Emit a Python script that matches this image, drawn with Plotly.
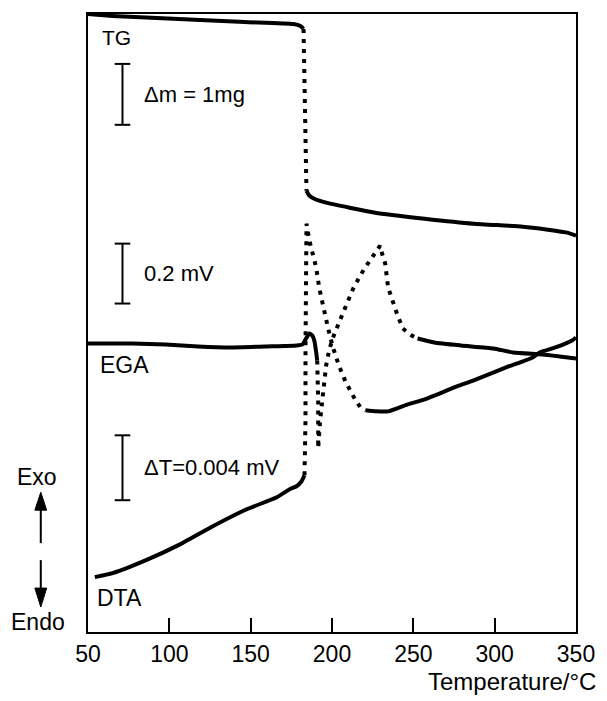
import plotly.graph_objects as go

# ---------------- data (temperature in °C, signal in arbitrary units) -------------
tg_solid1_T = [50.0, 65.1, 105.6, 146.2, 176.4, 180.6, 182.5]
tg_solid1_Y = [619, 617, 614, 611, 609, 607, 604]
tg_dot_T = [182.5, 183.1, 183.7, 184.3]
tg_dot_Y = [604, 552, 492, 442]
tg_solid2_T = [184.3, 186.1, 189.1, 196.4, 226.6, 256.9, 287.1, 317.3, 337.3, 344.6, 350.0]
tg_solid2_Y = [442, 437, 434, 430, 420, 414, 409, 406, 402, 400, 397]

ega_solid1_T = [50.0, 77.2, 97.8, 117.7, 137.7, 158.3, 178.2, 181.9, 183.7, 186.1, 187.9, 189.1, 190.3, 190.9]
ega_solid1_Y = [289, 289, 288, 286, 285, 286, 287, 288, 293, 299, 297, 292, 280, 272]
ega_dot_T = [190.9, 191.5, 191.5, 192.7, 194.5, 196.4, 198.2, 200.6, 206.6, 213.3, 219.9, 226.6, 229.6,
             230.8, 232.7, 234.5, 236.9, 239.9, 243.5, 249.0, 252.6]
ega_dot_Y = [272, 232, 184, 212, 239, 267, 282, 295, 319, 345, 364, 379, 387,
             379, 369, 345, 332, 319, 304, 297, 294]
ega_solid2_T = [252.6, 262.9, 279.2, 299.2, 311.3, 329.4, 340.0, 350.0]
ega_solid2_Y = [294, 290, 287, 284, 280, 278, 276, 274]

dta_solid1_T = [54.2, 65.1, 85.7, 105.6, 125.6, 146.2, 166.1, 174.0, 178.2, 181.3, 183.1]
dta_solid1_Y = [55, 59, 72, 87, 105, 122, 135, 143, 146, 151, 157]
dta_dot_T = [183.1, 183.7, 183.7, 183.7, 184.3, 184.3, 186.1, 188.5, 190.3, 192.1, 194.5, 197.6,
             200.6, 204.2, 208.5, 211.5, 214.5, 217.5, 220.6]
dta_dot_Y = [157, 212, 282, 352, 402, 409, 392, 377, 365, 345, 325, 304,
             285, 267, 250, 240, 232, 225, 222]
dta_solid2_T = [220.6, 227.0, 234.5, 246.6, 256.9, 276.8, 287.1, 307.0, 323.4, 327.6, 337.3, 347.6, 350.0]
dta_solid2_Y = [222, 221, 221, 228, 233, 246, 252, 265, 275, 280, 285, 292, 295]

tick_vals = [50, 100, 150, 200, 250, 300, 350]
tick_text = ["50", "100", "150", "200", "250", "300", "350"]

curve_labels = ["TG", "EGA", "DTA"]
curve_label_T = [57.3, 56.0, 54.2]
curve_label_Y = [595, 267, 34]

scale_texts = ["Δm = 1mg", "0.2 mV", "ΔT=0.004 mV"]
scale_bar_lo = [508, 329, 132]
scale_bar_hi = [569, 389, 197]

# ---------------- figure ----------------
FONT = "Liberation Sans"
W, H = 607, 701
L, R, T, B = 88, 23, 13, 69
PW, PH = W - L - R, H - T - B

fig = go.Figure()

solid = dict(color="black", width=4, shape="spline", smoothing=0.5)
dotted = dict(color="black", width=4, dash="4px,6px", shape="linear")

segments = [
    (tg_solid1_T, tg_solid1_Y, solid), (tg_dot_T, tg_dot_Y, dotted), (tg_solid2_T, tg_solid2_Y, solid),
    (ega_solid1_T, ega_solid1_Y, solid), (ega_dot_T, ega_dot_Y, dotted), (ega_solid2_T, ega_solid2_Y, solid),
    (dta_solid1_T, dta_solid1_Y, solid), (dta_dot_T, dta_dot_Y, dotted), (dta_solid2_T, dta_solid2_Y, solid),
]
for xs, ys, ln in segments:
    fig.add_trace(go.Scatter(x=xs, y=ys, mode="lines", line=ln, showlegend=False,
                             hoverinfo="skip"))

annotations = []
for txt, tx, ty in zip(curve_labels, curve_label_T, curve_label_Y):
    annotations.append(dict(x=tx, y=ty, xref="x", yref="y", text=txt, showarrow=False,
                            xanchor="left", yanchor="middle",
                            font=dict(size=21 if txt == "TG" else 23, family=FONT, color="black")))

shapes = []
bar_x = 71.2
cap_half = 4.8
for txt, lo, hi in zip(scale_texts, scale_bar_lo, scale_bar_hi):
    shapes.append(dict(type="line", xref="x", yref="y", x0=bar_x, x1=bar_x, y0=lo, y1=hi,
                       line=dict(color="black", width=2)))
    for yy in (lo, hi):
        shapes.append(dict(type="line", xref="x", yref="y", x0=bar_x - cap_half, x1=bar_x + cap_half,
                           y0=yy, y1=yy, line=dict(color="black", width=2)))
    annotations.append(dict(x=83.3, y=(lo + hi) / 2, xref="x", yref="y", text=txt, showarrow=False,
                            xanchor="left", yanchor="middle",
                            font=dict(size=22, family=FONT, color="black")))


def pp(px, py):
    return (px - L) / PW, (T + PH - py) / PH


# Exo / Endo labels and arrows
ex, ey = pp(36, 477)
annotations.append(dict(x=ex, y=ey, xref="paper", yref="paper", text="Exo", showarrow=False,
                        xanchor="center", yanchor="middle", font=dict(size=23, family=FONT, color="black")))
ex, ey = pp(37, 622)
annotations.append(dict(x=ex, y=ey, xref="paper", yref="paper", text="Endo", showarrow=False,
                        xanchor="center", yanchor="middle", font=dict(size=23, family=FONT, color="black")))

a0 = pp(40, 543); a1 = pp(40, 509)
shapes.append(dict(type="line", xref="paper", yref="paper", x0=a0[0], y0=a0[1], x1=a1[0], y1=a1[1],
                   line=dict(color="black", width=2)))
p1, p2, p3 = pp(34, 510), pp(46, 510), pp(40, 492)
shapes.append(dict(type="path", xref="paper", yref="paper",
                   path=f"M{p1[0]},{p1[1]} L{p2[0]},{p2[1]} L{p3[0]},{p3[1]} Z",
                   fillcolor="black", line=dict(color="black", width=1)))
a0 = pp(40, 560); a1 = pp(40, 589)
shapes.append(dict(type="line", xref="paper", yref="paper", x0=a0[0], y0=a0[1], x1=a1[0], y1=a1[1],
                   line=dict(color="black", width=2)))
p1, p2, p3 = pp(34, 588), pp(46, 588), pp(40, 607)
shapes.append(dict(type="path", xref="paper", yref="paper",
                   path=f"M{p1[0]},{p1[1]} L{p2[0]},{p2[1]} L{p3[0]},{p3[1]} Z",
                   fillcolor="black", line=dict(color="black", width=1)))

# axis title
tx, ty = pp(606, 682)
annotations.append(dict(x=tx, y=ty, xref="paper", yref="paper", text="Temperature/°C", showarrow=False,
                        xanchor="right", yanchor="middle", font=dict(size=24, family=FONT, color="black")))

fig.update_layout(
    width=W, height=H,
    margin=dict(l=L, r=R, t=T, b=B, pad=0),
    paper_bgcolor="white", plot_bgcolor="white",
    showlegend=False,
    annotations=annotations,
    shapes=shapes,
    xaxis=dict(range=[50, 350], tickvals=tick_vals, ticktext=tick_text, ticks="inside",
               ticklen=14, tickwidth=2, tickcolor="black", showline=True, linecolor="black",
               linewidth=2, mirror=True, showgrid=False, zeroline=False,
               tickfont=dict(size=23, family=FONT, color="black")),
    yaxis=dict(range=[0, 619], showticklabels=False, ticks="", showline=True, linecolor="black",
               linewidth=2, mirror=True, showgrid=False, zeroline=False),
)

fig.write_html("out.html")
